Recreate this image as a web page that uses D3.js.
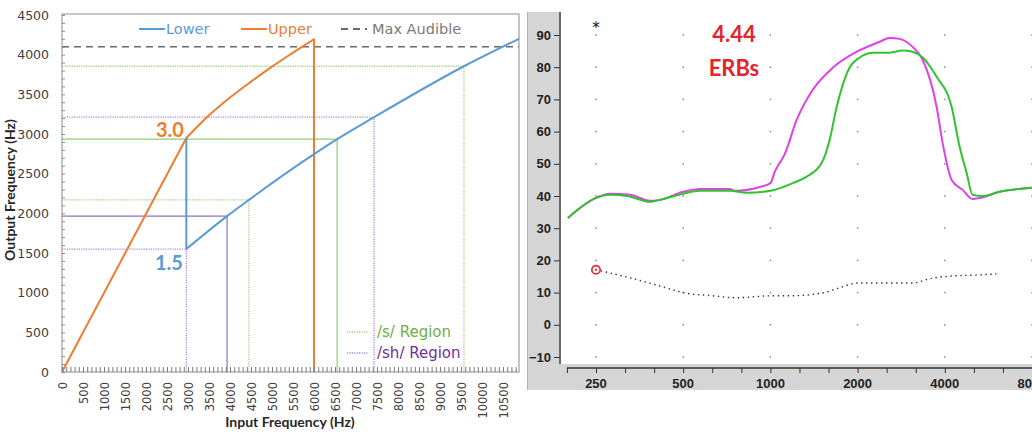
<!DOCTYPE html>
<html><head><meta charset="utf-8">
<script src="https://cdn.jsdelivr.net/npm/d3@7"></script>
<style>
body{margin:0;background:#fff;}
svg{display:block;}
</style>
</head><body>
<svg id="chart" width="1032" height="434"></svg>
<script>
// ---------- Frequency-lowering map (left panel) ----------
const inputTicks  = d3.range(0, 10501, 500);
const outputTicks = d3.range(0, 4501, 500);
const upperIn   = [0, 2960, 3450, 4000, 4500, 5000, 5500, 6000, 6000];
const upperOut  = [0, 2950, 3212, 3460, 3660, 3850, 4025, 4195, 0];
const lowerIn   = [2960, 2960, 3930, 4450, 6000, 6550, 7430, 9570, 10880];
const lowerOut  = [2950, 1550, 1965, 2170, 2746, 2935, 3212, 3854, 4200];
const maxAudible = 4100;
const sRegionIn   = [4450, 6550, 9570];
const sRegionOut  = [2170, 2935, 3854];
const shRegionIn  = [2960, 3930, 7430];
const shRegionOut = [1550, 1965, 3212];
const upperRatio = "3.0";
const lowerRatio = "1.5";

// ---------- Spectrum (right panel) ----------
const freqTicks  = [250, 500, 1000, 2000, 4000, 8000];
const levelTicks = d3.range(-10, 91, 10);
const greenFreq = [200, 250, 279, 320, 384, 416, 500, 571, 724, 829, 1000, 1195, 1335, 1504, 1602, 1694, 1879, 2034, 2255, 2581, 2862, 3097, 3354, 3748, 4222, 4500, 4757, 4987, 5401, 6180, 8400];
const greenDb   = [33.2, 39.4, 40.4, 40, 38.2, 38.8, 40.7, 41.6, 41.6, 41, 41.6, 44, 46, 50.3, 57.5, 67.7, 80, 83, 84.5, 84.5, 85.2, 84.8, 83, 77, 67.7, 55.3, 47.2, 40.4, 40, 41.3, 42.7];
const magentaFreq = [200, 250, 279, 327, 384, 416, 500, 571, 724, 754, 919, 1000, 1035, 1121, 1233, 1401, 1641, 1986, 2383, 2581, 2794, 3097, 3354, 3748, 3931, 4222, 4608, 4987, 5274, 6180, 8400];
const magentaDb   = [33.2, 39.4, 40.7, 40.4, 38.5, 38.8, 41.3, 42.2, 42.2, 41.6, 42.8, 44, 47.5, 53, 63.7, 73, 79.8, 84.8, 87.9, 89.1, 88.8, 86.3, 82.3, 67.7, 56.5, 45, 41.9, 39.1, 39.4, 41.3, 42.7];
const thresholdFreq = [250, 327, 425, 500, 633, 760, 1004, 1167, 1516, 1735, 2000, 3097, 3545, 4000, 5274, 6030];
const thresholdDb   = [17.1, 14.6, 11.8, 10, 9, 8.4, 9, 9, 9.9, 11.5, 13, 13, 14.3, 15, 15.5, 15.8];
const erbValue = "4.44";
const erbUnit  = "ERBs";

const svg = d3.select("#chart");

// ===== Left panel =====
const L = {x0: 62, x1: 519, y0: 14, y1: 372};
const xL = d3.scaleLinear().domain([0, 10880]).range([L.x0, L.x1]);
const yL = d3.scaleLinear().domain([0, 4500]).range([L.y1, 15]);
const gL = svg.append("g");
const tickFont = "DejaVu Sans, sans-serif";

// region guide lines: horizontal from the axis to the lower curve, vertical down to zero
function guides(xs, ys, solidColor, dotColor) {
  xs.forEach((x, i) => {
    const solid = i === 1;
    const col = solid ? solidColor : dotColor;
    const dash = solid ? null : "1.2,1.2";
    gL.append("line").attr("x1", xL(0)).attr("x2", xL(x)).attr("y1", yL(ys[i])).attr("y2", yL(ys[i]))
      .attr("stroke", col).attr("stroke-width", solid ? 1.2 : 1.3).attr("stroke-dasharray", dash);
    gL.append("line").attr("x1", xL(x)).attr("x2", xL(x)).attr("y1", yL(0)).attr("y2", yL(ys[i]))
      .attr("stroke", col).attr("stroke-width", solid ? 1.2 : 1.3).attr("stroke-dasharray", dash);
  });
}
guides(sRegionIn, sRegionOut, "#8fce6e", "#9fd080");
guides(shRegionIn, shRegionOut, "#9370c8", "#a888dc");

// max audible
gL.append("line").attr("x1", L.x0).attr("x2", L.x1).attr("y1", yL(maxAudible)).attr("y2", yL(maxAudible))
  .attr("stroke", "#6b6b6b").attr("stroke-width", 1.6).attr("stroke-dasharray", "7,5");

const straight = d3.line().x(d => xL(d[0])).y(d => yL(d[1]));
const smooth = d3.line().x(d => xL(d[0])).y(d => yL(d[1])).curve(d3.curveMonotoneX);
const upperPts = d3.zip(upperIn, upperOut);
const lowerPts = d3.zip(lowerIn, lowerOut);
// upper: linear rise, smooth compressed part, vertical cut-off
gL.append("path").attr("d", straight(upperPts.slice(0, 2)) + smooth(upperPts.slice(1, -1)).replace(/^M/, "L") + straight(upperPts.slice(-2)).replace(/^M/, "L"))
  .attr("fill", "none").attr("stroke", "#ed7d31").attr("stroke-width", 2).attr("stroke-linejoin", "round");
// lower: drop at the knee, then smooth compressed part
gL.append("path").attr("d", straight(lowerPts.slice(0, 2)) + smooth(lowerPts.slice(1)).replace(/^M/, "L"))
  .attr("fill", "none").attr("stroke", "#5b9bd5").attr("stroke-width", 2).attr("stroke-linejoin", "round");

// frame
gL.append("rect").attr("x", L.x0).attr("y", L.y0).attr("width", L.x1 - L.x0).attr("height", L.y1 - L.y0)
  .attr("fill", "none").attr("stroke", "#8c8c8c").attr("stroke-width", 1);

// minor ticks inside the frame
const yMinor = gL.append("g").attr("transform", `translate(${L.x0},0)`)
  .call(d3.axisRight(yL).tickValues(d3.range(0, 4501, 100)).tickSize(3).tickFormat(""));
yMinor.select(".domain").remove();
yMinor.selectAll("line").attr("stroke", "#8c8c8c");
const xMinor = gL.append("g").attr("transform", `translate(0,${L.y1})`)
  .call(d3.axisTop(xL).tickValues(d3.range(0, 10801, 100)).tickSize(5).tickFormat(""));
xMinor.select(".domain").remove();
xMinor.selectAll("line").attr("stroke", "#7a7a7a");

// tick labels
const yAx = gL.append("g").attr("transform", `translate(${L.x0},0)`)
  .call(d3.axisLeft(yL).tickValues(outputTicks).tickSize(0).tickPadding(13).tickFormat(d3.format("d")));
yAx.select(".domain").remove();
yAx.selectAll("text").attr("font-family", tickFont).attr("font-size", 12.5).attr("fill", "#404040");

const xAx = gL.append("g").attr("transform", `translate(0,${L.y1})`)
  .call(d3.axisBottom(xL).tickValues(inputTicks).tickSize(0).tickFormat(d3.format("d")));
xAx.select(".domain").remove();
xAx.selectAll("text").attr("font-family", tickFont).attr("font-size", 11.5).attr("fill", "#404040")
  .attr("text-anchor", "end").attr("dy", "0.35em").attr("y", 0)
  .attr("transform", "translate(0,10) rotate(-90)");

// axis titles
gL.append("text").attr("x", 290).attr("y", 427).attr("text-anchor", "middle")
  .attr("font-family", "Lato, sans-serif").attr("font-weight", "bold").attr("font-size", 14).attr("fill", "#262626")
  .text("Input Frequency (Hz)");
gL.append("text").attr("transform", "translate(15,190) rotate(-90)").attr("text-anchor", "middle")
  .attr("font-family", "Lato, sans-serif").attr("font-weight", "bold").attr("font-size", 14).attr("fill", "#262626")
  .text("Output Frequency (Hz)");

// ratio labels
gL.append("text").attr("x", 170).attr("y", 137).attr("text-anchor", "middle")
  .attr("font-family", "Lato, sans-serif").attr("font-weight", "bold").attr("font-size", 20).attr("fill", "#ed7d31")
  .text(upperRatio);
gL.append("text").attr("x", 169).attr("y", 270).attr("text-anchor", "middle")
  .attr("font-family", "Lato, sans-serif").attr("font-weight", "bold").attr("font-size", 20).attr("fill", "#5b9bd5")
  .text(lowerRatio);

// legend (top)
const legFont = "DejaVu Sans, sans-serif";
const legTop = [
  {label: "Lower", color: "#5b9bd5", x: 139, dash: null},
  {label: "Upper", color: "#ed7d31", x: 241, dash: null},
  {label: "Max Audible", color: "#7a7a7a", x: 341, dash: "7,5"}
];
legTop.forEach(d => {
  gL.append("line").attr("x1", d.x).attr("x2", d.x + 26).attr("y1", 29).attr("y2", 29)
    .attr("stroke", d.dash ? "#6b6b6b" : d.color).attr("stroke-width", 2).attr("stroke-dasharray", d.dash);
  gL.append("text").attr("x", d.x + (d.dash ? 31 : 27)).attr("y", 34)
    .attr("font-family", legFont).attr("font-size", 14.5).attr("fill", d.color).text(d.label);
});
// legend (regions)
const legReg = [
  {label: "/s/ Region", color: "#70ad47", line: "#9fd080", y: 332},
  {label: "/sh/ Region", color: "#7030a0", line: "#a888dc", y: 353}
];
legReg.forEach(d => {
  gL.append("line").attr("x1", 347).attr("x2", 368).attr("y1", d.y).attr("y2", d.y)
    .attr("stroke", d.line).attr("stroke-width", 1.3).attr("stroke-dasharray", "1.2,1.2");
  gL.append("text").attr("x", 377).attr("y", d.y + 5)
    .attr("font-family", legFont).attr("font-size", 15).attr("fill", d.color).text(d.label);
});

// ===== Right panel =====
const R = {px0: 527, py0: 12, py1: 390, x0: 561, y1: 364};
const xR = d3.scaleLog().domain([250, 8000]).range([596, 1032]);
const yR = d3.scaleLinear().domain([-10, 90]).range([357, 35]);
const gR = svg.append("g");

gR.append("rect").attr("x", R.px0).attr("y", R.py0).attr("width", 1032 - R.px0).attr("height", R.py1 - R.py0)
  .attr("fill", "#d5d5d5");
gR.append("line").attr("x1", R.px0 + 0.5).attr("x2", R.px0 + 0.5).attr("y1", R.py0).attr("y2", R.py1)
  .attr("stroke", "#b0b0b0");
gR.append("rect").attr("x", R.x0).attr("y", R.py0).attr("width", 1032 - R.x0).attr("height", R.y1 - R.py0)
  .attr("fill", "#fff");

// grid dots
freqTicks.forEach(f => levelTicks.forEach(v => {
  gR.append("rect").attr("x", xR(f) - 0.75).attr("y", yR(v) - 0.75).attr("width", 1.5).attr("height", 1.5)
    .attr("fill", "#8a8a8a");
}));

// y axis
const yAxR = gR.append("g").attr("transform", `translate(560,0)`)
  .call(d3.axisLeft(yR).tickValues(levelTicks).tickSize(6).tickPadding(3));
yAxR.select(".domain").remove();
yAxR.selectAll("line").attr("stroke", "#333");
yAxR.selectAll("text").attr("font-family", "Liberation Sans, Arial, sans-serif").attr("font-weight", "bold")
  .attr("font-size", 13).attr("fill", "#222");
gR.append("line").attr("x1", 560).attr("x2", 560).attr("y1", R.py0).attr("y2", R.y1)
  .attr("stroke", "#444").attr("stroke-width", 1.5);

// x axis (third-octave ticks, labels on octaves)
const thirdOct = d3.range(-1, 16).map(k => 250 * Math.pow(2, k / 3));
const xAxR = gR.append("g").attr("transform", `translate(0,368)`)
  .call(d3.axisBottom(xR).tickValues(thirdOct).tickSize(5).tickFormat(""));
xAxR.select(".domain").remove();
xAxR.selectAll("line").attr("stroke", "#333");
gR.append("line").attr("x1", xR(thirdOct[0])).attr("x2", 1032).attr("y1", 368).attr("y2", 368)
  .attr("stroke", "#333").attr("stroke-width", 1.3);
gR.selectAll(".flab").data(freqTicks).join("text").attr("class", "flab")
  .attr("x", d => xR(d)).attr("y", 388).attr("text-anchor", "middle")
  .attr("font-family", "Liberation Sans, Arial, sans-serif").attr("font-weight", "bold").attr("font-size", 13)
  .attr("fill", "#222").text(d => d);

// curves
svg.append("clipPath").attr("id", "plotR").append("rect")
  .attr("x", R.x0).attr("y", R.py0).attr("width", 1032 - R.x0).attr("height", R.y1 - R.py0);
const lineR = d3.line().x(d => xR(d[0])).y(d => yR(d[1])).curve(d3.curveMonotoneX);
const curves = gR.append("g").attr("clip-path", "url(#plotR)");
curves.append("path").datum(d3.zip(thresholdFreq, thresholdDb)).attr("d", lineR)
  .attr("fill", "none").attr("stroke", "#333").attr("stroke-width", 1.4)
  .attr("stroke-dasharray", "1.4,3.6");
curves.append("path").datum(d3.zip(magentaFreq, magentaDb)).attr("d", lineR)
  .attr("fill", "none").attr("stroke", "#e040e8").attr("stroke-width", 2);
curves.append("path").datum(d3.zip(greenFreq, greenDb)).attr("d", lineR)
  .attr("fill", "none").attr("stroke", "#2fc42f").attr("stroke-width", 2);

// threshold start marker
gR.append("circle").attr("cx", xR(thresholdFreq[0])).attr("cy", yR(thresholdDb[0])).attr("r", 4.2)
  .attr("fill", "#fbeaea").attr("stroke", "#e0303a").attr("stroke-width", 1.7);
gR.append("circle").attr("cx", xR(thresholdFreq[0])).attr("cy", yR(thresholdDb[0])).attr("r", 1)
  .attr("fill", "#a33");

gR.append("text").attr("x", 596).attr("y", 33).attr("text-anchor", "middle")
  .attr("font-family", "DejaVu Sans, sans-serif").attr("font-size", 15).attr("fill", "#111").text("*");
gR.append("text").attr("x", 734).attr("y", 42).attr("text-anchor", "middle")
  .attr("font-family", "Lato, sans-serif").attr("font-weight", "bold").attr("font-size", 22).attr("fill", "#e3242b")
  .text(erbValue);
gR.append("text").attr("x", 734).attr("y", 76).attr("text-anchor", "middle")
  .attr("font-family", "Lato, sans-serif").attr("font-weight", "bold").attr("font-size", 22).attr("fill", "#e3242b")
  .text(erbUnit);
</script>
</body></html>
